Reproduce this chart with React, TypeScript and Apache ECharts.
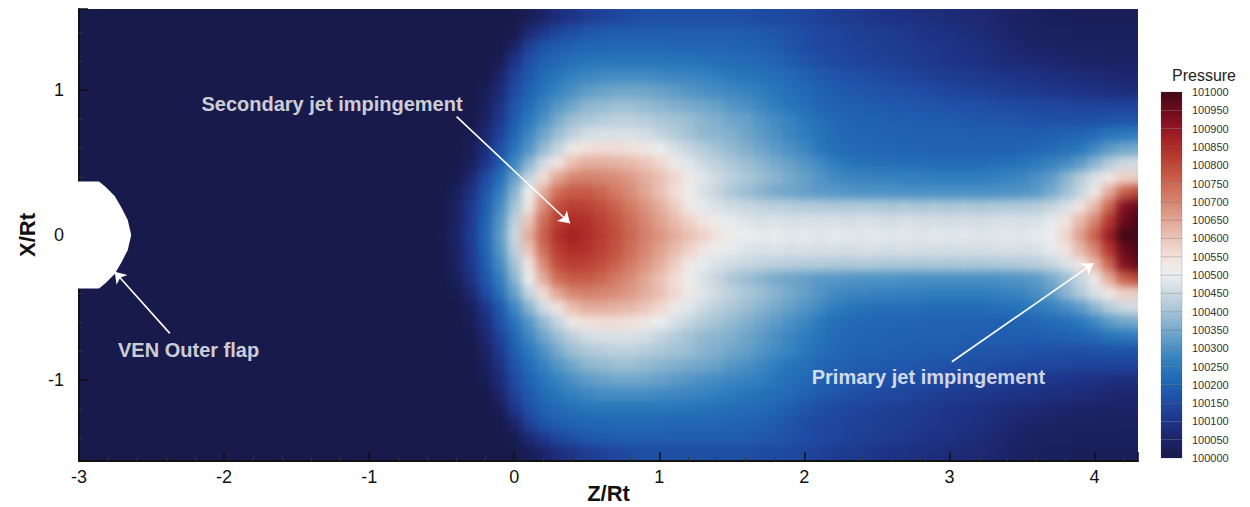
import React, { useEffect, useRef } from "react";
import * as echarts from "echarts";

// ---------- page / layout ----------
const W = 1250;
const H = 507;
const GRID = { left: 79, top: 9, width: 1059, height: 452 };
const FONT = "'Liberation Sans', Arial, sans-serif";

// ---------- axes ----------
const Z_MIN = -3;
const Z_MAX = 4.3;
const X_MIN = -1.558;
const X_MAX = 1.558;

// ---------- colour bar ----------
const PRESSURE_LEVELS = [
  100000, 100050, 100100, 100150, 100200, 100250, 100300, 100350, 100400, 100450,
  100500, 100550, 100600, 100650, 100700, 100750, 100800, 100850, 100900, 100950, 101000,
];
const PRESSURE_COLORS = [
  "#171a4a", "#1c2468", "#1e3488", "#1f4aa2", "#2062b2", "#2a78bc", "#4b90c4",
  "#78aacb", "#a4c3d5", "#cdd9e2", "#eceeef", "#f2e2dc", "#ebc5b9", "#e1a694",
  "#d68671", "#cb6751", "#be4838", "#ae2c27", "#921623", "#6c0c1e", "#430816",
];

// ---------- pressure field (Pa) ----------
// columns: Z/Rt = -0.7, -0.6, ... 4.3 (step 0.1); left of -0.7 the field is uniform 100000
// rows: X/Rt = 0.0 ... 1.5; the field is symmetric about X/Rt = 0
const FIELD_Z_START = -0.7;
const FIELD_DZ = 0.1;
const FIELD_ROW_X = [0, 0.1, 0.2, 0.3, 0.4, 0.5, 0.6, 0.7, 0.8, 0.9, 1.0, 1.1, 1.2, 1.3, 1.4, 1.5];

const P_X00 = [100000, 100000, 100010, 100050, 100120, 100210, 100320, 100450,
  100640, 100760, 100840, 100870, 100850, 100820, 100790, 100750, 100710, 100680,
  100640, 100610, 100580, 100545, 100510, 100500, 100490, 100495, 100485, 100490,
  100480, 100490, 100485, 100480, 100490, 100480, 100485, 100475, 100485, 100480,
  100485, 100475, 100480, 100485, 100480, 100490, 100505, 100570, 100660, 100760,
  100880, 101000, 101000];
const P_X01 = [100000, 100000, 100000, 100040, 100110, 100200, 100310, 100430,
  100600, 100740, 100820, 100850, 100840, 100810, 100780, 100740, 100700, 100660,
  100620, 100580, 100540, 100510, 100490, 100475, 100470, 100475, 100465, 100470,
  100465, 100470, 100460, 100470, 100465, 100460, 100470, 100460, 100465, 100460,
  100465, 100460, 100465, 100470, 100465, 100470, 100490, 100540, 100620, 100700,
  100830, 100950, 100990];
const P_X02 = [100000, 100000, 100000, 100040, 100110, 100190, 100290, 100400,
  100540, 100690, 100790, 100820, 100810, 100790, 100760, 100720, 100680, 100640,
  100590, 100530, 100490, 100470, 100455, 100445, 100435, 100430, 100425, 100420,
  100420, 100415, 100415, 100420, 100415, 100410, 100415, 100410, 100415, 100410,
  100415, 100410, 100415, 100415, 100420, 100425, 100440, 100470, 100540, 100620,
  100750, 100920, 100960];
const P_X03 = [100000, 100000, 100000, 100030, 100090, 100170, 100260, 100370,
  100500, 100640, 100740, 100770, 100770, 100750, 100720, 100690, 100650, 100610,
  100560, 100510, 100470, 100440, 100410, 100390, 100370, 100350, 100340, 100330,
  100320, 100315, 100310, 100305, 100305, 100305, 100300, 100300, 100300, 100300,
  100300, 100300, 100300, 100305, 100310, 100320, 100350, 100390, 100440, 100520,
  100640, 100760, 100800];
const P_X04 = [100000, 100000, 100000, 100010, 100060, 100150, 100230, 100330,
  100440, 100560, 100650, 100700, 100710, 100700, 100690, 100670, 100640, 100610,
  100570, 100520, 100480, 100450, 100430, 100410, 100390, 100370, 100350, 100330,
  100310, 100290, 100280, 100275, 100270, 100270, 100265, 100265, 100260, 100260,
  100260, 100260, 100265, 100270, 100280, 100300, 100320, 100370, 100420, 100470,
  100530, 100580, 100590];
const P_X05 = [100000, 100000, 100000, 100000, 100030, 100100, 100180, 100280,
  100370, 100460, 100540, 100610, 100640, 100640, 100630, 100620, 100600, 100570,
  100520, 100480, 100450, 100430, 100410, 100390, 100370, 100350, 100330, 100310,
  100290, 100260, 100245, 100235, 100230, 100230, 100225, 100225, 100220, 100220,
  100220, 100220, 100225, 100230, 100240, 100255, 100270, 100290, 100320, 100370,
  100420, 100450, 100460];
const P_X06 = [100000, 100000, 100000, 100000, 100020, 100080, 100160, 100240,
  100310, 100380, 100440, 100520, 100550, 100560, 100560, 100550, 100530, 100500,
  100470, 100440, 100420, 100400, 100380, 100360, 100340, 100320, 100300, 100280,
  100250, 100230, 100220, 100215, 100210, 100210, 100205, 100205, 100200, 100200,
  100200, 100200, 100200, 100200, 100205, 100210, 100220, 100230, 100250, 100280,
  100320, 100340, 100350];
const P_X07 = [100000, 100000, 100000, 100000, 100010, 100060, 100130, 100210,
  100280, 100340, 100390, 100430, 100460, 100470, 100470, 100470, 100460, 100440,
  100420, 100400, 100380, 100370, 100360, 100340, 100320, 100300, 100280, 100260,
  100240, 100220, 100210, 100205, 100205, 100200, 100200, 100195, 100195, 100195,
  100195, 100190, 100190, 100190, 100190, 100190, 100195, 100200, 100205, 100220,
  100240, 100250, 100260];
const P_X08 = [100000, 100000, 100000, 100000, 100000, 100040, 100110, 100190,
  100250, 100300, 100350, 100390, 100410, 100420, 100430, 100430, 100420, 100410,
  100400, 100390, 100370, 100360, 100340, 100330, 100310, 100290, 100270, 100250,
  100230, 100215, 100205, 100200, 100200, 100195, 100190, 100190, 100185, 100185,
  100180, 100175, 100175, 100175, 100170, 100165, 100165, 100160, 100160, 100165,
  100170, 100170, 100170];
const P_X09 = [100000, 100000, 100000, 100000, 100000, 100030, 100090, 100170,
  100220, 100270, 100310, 100340, 100370, 100380, 100390, 100390, 100380, 100370,
  100360, 100350, 100340, 100330, 100310, 100300, 100280, 100260, 100240, 100230,
  100210, 100200, 100195, 100190, 100185, 100180, 100180, 100175, 100170, 100165,
  100165, 100160, 100155, 100150, 100145, 100145, 100140, 100140, 100135, 100135,
  100135, 100135, 100135];
const P_X10 = [100000, 100000, 100000, 100000, 100000, 100020, 100070, 100150,
  100200, 100240, 100270, 100300, 100320, 100330, 100340, 100340, 100340, 100330,
  100320, 100310, 100300, 100290, 100280, 100270, 100260, 100245, 100230, 100215,
  100200, 100190, 100180, 100175, 100170, 100165, 100160, 100155, 100150, 100140,
  100135, 100130, 100125, 100120, 100115, 100110, 100105, 100100, 100095, 100090,
  100085, 100080, 100080];
const P_X11 = [100000, 100000, 100000, 100000, 100000, 100000, 100050, 100130,
  100180, 100220, 100245, 100265, 100280, 100290, 100290, 100290, 100290, 100285,
  100280, 100275, 100270, 100260, 100250, 100240, 100235, 100225, 100215, 100200,
  100185, 100175, 100165, 100160, 100150, 100145, 100140, 100130, 100125, 100120,
  100115, 100110, 100105, 100100, 100095, 100090, 100085, 100080, 100075, 100070,
  100065, 100060, 100060];
const P_X12 = [100000, 100000, 100000, 100000, 100000, 100000, 100020, 100100,
  100160, 100195, 100215, 100230, 100240, 100245, 100245, 100245, 100245, 100245,
  100240, 100240, 100235, 100230, 100225, 100220, 100215, 100205, 100190, 100175,
  100160, 100150, 100140, 100135, 100130, 100125, 100120, 100115, 100110, 100100,
  100095, 100090, 100080, 100075, 100070, 100065, 100060, 100055, 100050, 100050,
  100045, 100045, 100045];
const P_X13 = [100000, 100000, 100000, 100000, 100000, 100000, 100000, 100050,
  100130, 100170, 100190, 100200, 100210, 100210, 100215, 100215, 100215, 100215,
  100210, 100210, 100210, 100210, 100205, 100200, 100195, 100185, 100170, 100155,
  100145, 100140, 100135, 100130, 100125, 100120, 100115, 100110, 100105, 100100,
  100090, 100085, 100075, 100065, 100055, 100050, 100045, 100040, 100040, 100040,
  100040, 100035, 100035];
const P_X14 = [100000, 100000, 100000, 100000, 100000, 100000, 100000, 100010,
  100070, 100110, 100140, 100160, 100180, 100185, 100190, 100190, 100190, 100190,
  100190, 100190, 100190, 100190, 100190, 100185, 100180, 100175, 100165, 100155,
  100145, 100140, 100130, 100125, 100120, 100115, 100110, 100100, 100095, 100090,
  100080, 100075, 100065, 100055, 100045, 100040, 100035, 100035, 100030, 100030,
  100030, 100030, 100030];
const P_X15 = [100000, 100000, 100000, 100000, 100000, 100000, 100000, 100000,
  100020, 100050, 100080, 100100, 100120, 100130, 100140, 100150, 100160, 100160,
  100160, 100160, 100160, 100160, 100160, 100160, 100150, 100150, 100145, 100140,
  100130, 100120, 100115, 100110, 100100, 100095, 100090, 100085, 100080, 100075,
  100070, 100065, 100060, 100050, 100040, 100035, 100030, 100030, 100025, 100025,
  100025, 100025, 100025];
const FIELD_ROWS = [P_X00, P_X01, P_X02, P_X03, P_X04, P_X05, P_X06, P_X07,
  P_X08, P_X09, P_X10, P_X11, P_X12, P_X13, P_X14, P_X15];

// ---------- VEN outer flap outline (Z/Rt, X/Rt) ----------
const FLAP_Z = [-3.01, -2.862, -2.816, -2.754, -2.706, -2.664, -2.64, -2.664, -2.706, -2.754, -2.816, -2.862, -3.01];
const FLAP_X = [0.368, 0.368, 0.331, 0.269, 0.186, 0.103, 0, -0.103, -0.186, -0.269, -0.331, -0.368, -0.368];

// ---------- annotations ----------
const NOTE_TEXT = ["Secondary jet impingement", "VEN Outer flap", "Primary jet impingement"];
const NOTE_POS = [[-2.156, 0.903], [-2.731, -0.793], [2.051, -0.977]];
const ARROW_FROM = [[-0.397, 0.816], [-2.374, -0.678], [3.017, -0.874]];
const ARROW_TO = [[0.384, 0.081], [-2.754, -0.253], [3.993, -0.195]];

function buildFieldData() {
  const out: number[][] = [];
  FIELD_ROWS.forEach((row, r) => {
    const x = FIELD_ROW_X[r];
    row.forEach((p, c) => {
      const z = Math.round((FIELD_Z_START + c * FIELD_DZ) * 10) / 10;
      out.push([z, x, p]);
      if (x > 0) out.push([z, -x, p]);
    });
  });
  return out;
}

const intLabel = (v: number) => (Math.abs(v - Math.round(v)) < 1e-6 ? String(Math.round(v)) : "");

export default function App() {
  const fieldRef = useRef<HTMLDivElement>(null);
  const overlayRef = useRef<HTMLDivElement>(null);

  useEffect(() => {
    const field = echarts.init(fieldRef.current!, null, { renderer: "svg" });
    const overlay = echarts.init(overlayRef.current!, null, { renderer: "svg" });
    const gridPx = {
      left: GRID.left, top: GRID.top, width: GRID.width, height: GRID.height,
      containLabel: false, outerBoundsMode: "none",
    };

    field.setOption({
      animation: false,
      backgroundColor: PRESSURE_COLORS[0],
      grid: gridPx,
      xAxis: { type: "value", min: Z_MIN, max: Z_MAX, show: false },
      yAxis: { type: "value", min: X_MIN, max: X_MAX, show: false },
      visualMap: {
        show: false,
        type: "continuous",
        min: PRESSURE_LEVELS[0],
        max: PRESSURE_LEVELS[PRESSURE_LEVELS.length - 1],
        dimension: 2,
        seriesIndex: 0,
        inRange: { color: PRESSURE_COLORS },
      },
      series: [
        {
          type: "custom",
          silent: true,
          data: buildFieldData(),
          renderItem: (params: any, api: any) => {
            const z = api.value(0);
            const x = api.value(1);
            const z0 = z - FIELD_DZ / 2;
            let z1 = z + FIELD_DZ / 2;
            let x0 = x - 0.05;
            let x1 = x + 0.05;
            if (z > Z_MAX - 0.01) z1 = Z_MAX + 0.5;
            if (x > 1.49) x1 = 2;
            if (x < -1.49) x0 = -2;
            const a = api.coord([z0, x1]);
            const b = api.coord([z1, x0]);
            return {
              type: "rect",
              shape: { x: a[0], y: a[1], width: b[0] - a[0] + 0.7, height: b[1] - a[1] + 0.7 },
              style: { fill: api.visual("color") },
            };
          },
        },
      ],
    });

    overlay.setOption({
      animation: false,
      backgroundColor: "transparent",
      textStyle: { fontFamily: FONT },
      grid: [
        gridPx,
        { left: 1161, top: 92, width: 21, height: 366, containLabel: false, outerBoundsMode: "none" },
      ],
      xAxis: [
        {
          type: "value", gridIndex: 0, min: Z_MIN, max: Z_MAX, splitNumber: 7,
          axisLine: { show: true, onZero: false, lineStyle: { color: "#111", width: 2 } },
          axisTick: { show: true, inside: true, length: 9, lineStyle: { color: "#111", width: 1.5 } },
          minorTick: { show: true, splitNumber: 5, length: 4, lineStyle: { color: "#333", width: 1 } },
          axisLabel: { show: true, fontSize: 18, color: "#111", fontFamily: FONT, margin: 7, formatter: intLabel },
          splitLine: { show: false },
          name: "Z/Rt", nameLocation: "middle", nameGap: 21, nameMoveOverlap: false,
          nameTextStyle: { fontSize: 22, fontWeight: "bold", color: "#111", fontFamily: FONT },
        },
        { type: "value", gridIndex: 1, min: 0, max: 1, show: false },
      ],
      yAxis: [
        {
          type: "value", gridIndex: 0, min: X_MIN, max: X_MAX, splitNumber: 3,
          axisLine: { show: true, onZero: false, lineStyle: { color: "#111", width: 2 } },
          axisTick: { show: true, inside: true, length: 9, lineStyle: { color: "#111", width: 1.5 } },
          minorTick: { show: true, splitNumber: 5, length: 4, lineStyle: { color: "#333", width: 1 } },
          axisLabel: { show: true, fontSize: 18, color: "#111", fontFamily: FONT, margin: 15, formatter: intLabel },
          splitLine: { show: false },
          name: "X/Rt", nameLocation: "middle", nameGap: 41, nameMoveOverlap: false,
          nameTextStyle: { fontSize: 22, fontWeight: "bold", color: "#111", fontFamily: FONT },
        },
        {
          type: "value", gridIndex: 1, position: "right",
          min: PRESSURE_LEVELS[0], max: PRESSURE_LEVELS[PRESSURE_LEVELS.length - 1], interval: 50,
          axisLine: { show: false }, axisTick: { show: false }, splitLine: { show: false },
          axisLabel: { fontSize: 11, color: "#333", margin: 10, fontFamily: FONT, formatter: (v: number) => String(v) },
        },
      ],
      graphic: [
        {
          type: "text", x: 1204, y: 75,
          style: { text: "Pressure", align: "center", verticalAlign: "middle", font: `16px ${FONT}`, fill: "#222" },
        },
      ],
      series: [
        {
          type: "custom", xAxisIndex: 0, yAxisIndex: 0, silent: true,
          data: [[Z_MIN, 0]],
          renderItem: (params: any, api: any) => ({
            type: "polygon",
            shape: { points: FLAP_Z.map((z, i) => api.coord([z, FLAP_X[i]])) },
            style: { fill: "#ffffff" },
          }),
        },
        {
          type: "lines", coordinateSystem: "cartesian2d", xAxisIndex: 0, yAxisIndex: 0, silent: true,
          symbol: ["none", "arrow"], symbolSize: 11,
          lineStyle: { color: "#ffffff", width: 1.6, opacity: 1 },
          data: ARROW_FROM.map((f, i) => ({ coords: [f, ARROW_TO[i]] })),
        },
        {
          type: "scatter", xAxisIndex: 0, yAxisIndex: 0, silent: true, symbolSize: 0,
          data: NOTE_TEXT.map((t, i) => ({ name: t, value: NOTE_POS[i] })),
          label: {
            show: true, position: "right", distance: 0, formatter: "{b}",
            color: "#ffffff", fontSize: 20, fontWeight: "bold", fontFamily: FONT,
          },
        },
        {
          type: "custom", xAxisIndex: 1, yAxisIndex: 1, silent: true,
          data: PRESSURE_LEVELS.slice(0, -1).map((lo, i) => [0, lo, PRESSURE_LEVELS[i + 1], i]),
          renderItem: (params: any, api: any) => {
            const i = api.value(3);
            const a = api.coord([0, api.value(2)]);
            const b = api.coord([1, api.value(1)]);
            return {
              type: "rect",
              shape: { x: a[0], y: a[1], width: b[0] - a[0], height: b[1] - a[1] },
              style: {
                fill: new echarts.graphic.LinearGradient(0, 0, 0, 1, [
                  { offset: 0, color: PRESSURE_COLORS[i + 1] },
                  { offset: 1, color: PRESSURE_COLORS[i] },
                ]),
                stroke: "rgba(70,70,70,0.25)",
                lineWidth: 0.8,
              },
            };
          },
        },
      ],
    });

    return () => {
      field.dispose();
      overlay.dispose();
    };
  }, []);

  const clip = `inset(${GRID.top}px ${W - GRID.left - GRID.width}px ${H - GRID.top - GRID.height}px ${GRID.left}px)`;
  return (
    <div style={{ position: "fixed", left: 0, top: 0, width: W, height: H, background: "#ffffff", overflow: "hidden" }}>
      <div ref={fieldRef} style={{ position: "absolute", left: 0, top: 0, width: W, height: H, filter: "blur(4.5px)", clipPath: clip }} />
      <div ref={overlayRef} style={{ position: "absolute", left: 0, top: 0, width: W, height: H }} />
    </div>
  );
}
